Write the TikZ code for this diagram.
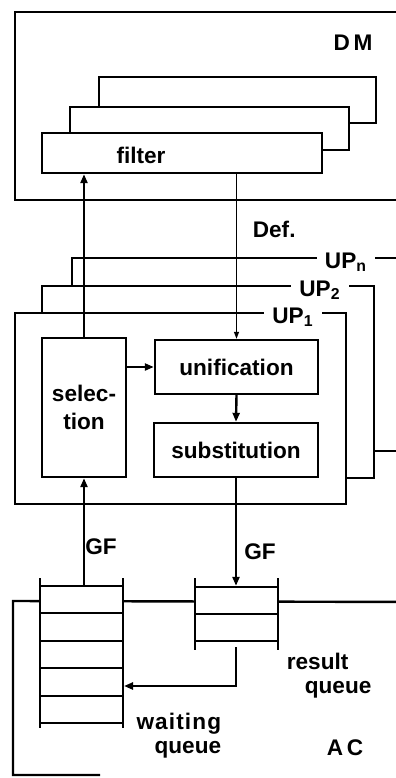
\documentclass[tikz,border=0pt]{standalone}
\usepackage{fontspec}
\setmainfont{Liberation Sans}
\newfontfamily\spacedfont{Liberation Sans}[LetterSpace=5]
\usetikzlibrary{arrows.meta,fit}
\newcommand{\lbfont}{\fontsize{11.3}{12}\selectfont\bfseries}

\begin{document}
\begin{tikzpicture}[x=0.5pt,y=-0.5pt,line width=1.2pt,
  box/.style={draw,fill=white,inner sep=0pt,label={[font=\lbfont,align=center]center:#1}},
  box/.default={},
  tag/.style={fill=white,inner xsep=4pt,inner ysep=1pt,font=\lbfont},
  lbl/.style={font=\lbfont},
  arr/.style={-{Triangle[length=4.5pt,width=3.5pt]}},
  thinarr/.style={line width=0.6pt,-{Triangle[length=3.5pt,width=2.5pt]}}]
\useasboundingbox (0,0) rectangle (396,778);
\clip (0,0) rectangle (396,778);
% DM
\draw (420,12) -- (15,12) -- (15,200) -- (420,200);
\node[lbl] (dm) at (353,43) {D\,M};
% filter
\node[box,fit={(99,77) (376,123)}] (filter3) {};
\node[box,fit={(70,107) (349,150)}] (filter2) {};
\node[box,fit={(42,133) (322,173)}] (filter) {};
\node[lbl] (filterlbl) at (141,155) {filter};
% UP_n, UP_2, UP_1
\node[box,fit={(72,258) (420,451)}] (upn) {};
\node[tag] (upnlbl) at (346,262) {UP\textsubscript{n}};
\node[box,fit={(42,286) (374,478)}] (up2) {};
\node[tag] (up2lbl) at (320,290) {UP\textsubscript{2}};
\node[box,fit={(15,313) (346,504)}] (up1) {};
\node[tag] (up1lbl) at (293,317) {UP\textsubscript{1}};
\node[box={selec-\\[2pt]tion},fit={(42,338) (126,477)}] (sel) {};
\node[box=unification,fit={(155,340) (318,394)}] (unif) {};
\node[box=substitution,fit={(154,423) (318,477)}] (subst) {};
% AC
\draw (420,602) -- (13,601) -- (13,775) -- (100,775);
\node[lbl] (ac) at (345,748) {A\,C};
% waiting queue
\node[fill=white,inner sep=0pt,fit={(40,586) (123,723)}] (wait) {};
\draw (40,578) -- (40,728) (123,578) -- (123,728);
\foreach \y in {586,613,641,668,696,723} \draw (40,\y) -- (123,\y);
\node[lbl,align=right,anchor=east] (waitlbl) at (229,736) {{\spacedfont waiting}\\queue};
% result queue
\node[fill=white,inner sep=0pt,fit={(195,587) (278,641)}] (res) {};
\draw (195,578) -- (195,650) (278,578) -- (278,650);
\foreach \y in {587,614,641} \draw (195,\y) -- (278,\y);
\node[lbl,align=left,anchor=west] (reslbl) at (279,676) {result\\\hspace*{9pt}queue};
% connectors
\draw[arr] (sel.north) -- (sel.north |- filter.south);
\draw[thinarr] (filter.south -| unif.north) -- (unif.north);
\node[lbl,anchor=west] (def) at (245,229) {Def.};
\draw[arr] (sel.east |- unif.west) -- (unif.west);
\draw[arr] (unif.south) -- (subst.north);
\draw[arr] (wait.north -| sel.south) -- (sel.south);
\node[lbl] (gfup) at (101,547) {GF};
\draw[arr] (subst.south) -- (subst.south |- res.north);
\node[lbl] (gfdown) at (260,552) {GF};
\coordinate (resout) at (236,647);
\coordinate (waitin) at (124,686);
\draw[arr] (resout) |- (waitin);
\end{tikzpicture}
\end{document}
